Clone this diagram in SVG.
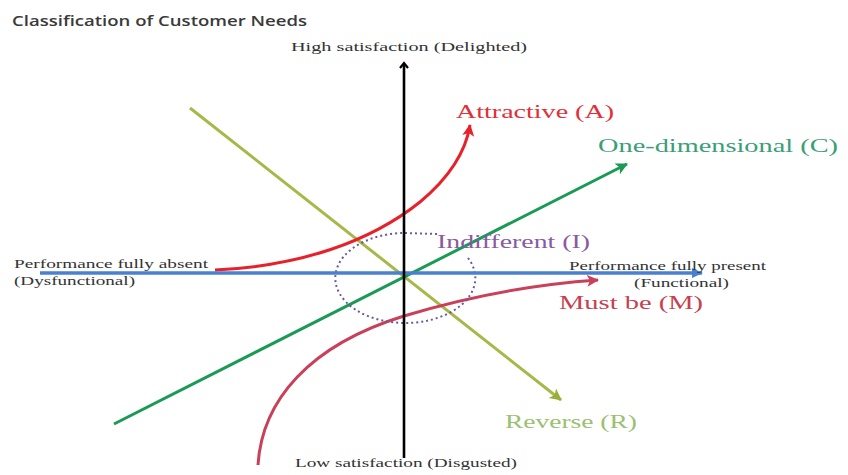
<svg xmlns="http://www.w3.org/2000/svg" width="848" height="475" viewBox="0 0 848 475">
  <style>
    .axis-label { font-family: "Liberation Serif", serif; font-size: 12px; fill: #333; }
    .curve-label { font-family: "Liberation Serif", serif; font-size: 18px; }
    .title { font-family: "Open Sans", "Liberation Sans", sans-serif; font-size: 14px; font-weight: 600; fill: #3a3a3a; }
  </style>
  <defs>
    <marker id="arrow-black" markerWidth="10" markerHeight="10" refX="5" refY="5" orient="auto" markerUnits="userSpaceOnUse">
      <path d="M1,1 L6,5 L1,9" fill="none" stroke="#000" stroke-width="2.2"/>
    </marker>
    <marker id="arrow-blue" markerWidth="12" markerHeight="12" refX="10" refY="6" orient="auto" markerUnits="userSpaceOnUse">
      <path d="M0,1 L11,6 L0,11 Z" fill="#4a80d0"/>
    </marker>
    <marker id="arrow-red" markerWidth="14" markerHeight="14" refX="11" refY="7" orient="auto" markerUnits="userSpaceOnUse">
      <path d="M0,1 L12,7 L0,13 L3,7 Z" fill="#e8202a"/>
    </marker>
    <marker id="arrow-crimson" markerWidth="14" markerHeight="14" refX="11" refY="7" orient="auto" markerUnits="userSpaceOnUse">
      <path d="M0,1 L12,7 L0,13 L3,7 Z" fill="#c8405a"/>
    </marker>
    <marker id="arrow-green" markerWidth="14" markerHeight="14" refX="11" refY="7" orient="auto" markerUnits="userSpaceOnUse">
      <path d="M0,1 L12,7 L0,13 L3,7 Z" fill="#1a9a55"/>
    </marker>
    <marker id="arrow-olive" markerWidth="14" markerHeight="14" refX="11" refY="7" orient="auto" markerUnits="userSpaceOnUse">
      <path d="M0,1 L12,7 L0,13 L3,7 Z" fill="#9aad3a"/>
    </marker>
  </defs>

  <rect width="848" height="475" fill="#fff"/>

  <text class="title" x="12" y="26" textLength="295" lengthAdjust="spacingAndGlyphs">Classification of Customer Needs</text>

  <g id="connectors">
    <!-- Reverse (R) -->
    <line x1="190" y1="108" x2="561" y2="400" stroke="#a8b848" stroke-width="3" marker-end="url(#arrow-olive)"/>
    <!-- One-dimensional (C) -->
    <line x1="114" y1="424" x2="627" y2="164" stroke="#1a9a55" stroke-width="3" marker-end="url(#arrow-green)"/>
    <!-- Attractive (A) -->
    <path d="M215,270 C300,266 370,242 420,202 C450,177 466,150 470,125" fill="none" stroke="#e8202a" stroke-width="3" marker-end="url(#arrow-red)"/>
    <!-- Must be (M) -->
    <path d="M258,465 C262,400 310,345 404,316 C470,296 540,284 598,280" fill="none" stroke="#c8405a" stroke-width="3" marker-end="url(#arrow-crimson)"/>
    <!-- Indifferent (I) -->
    <path d="M437,234 L405,233 A70,45 0 1 0 468,258" fill="none" stroke="#6a5a9a" stroke-width="2" stroke-dasharray="2,3"/>
    <!-- performance axis -->
    <line x1="40" y1="273" x2="702" y2="273" stroke="#4a80d0" stroke-width="3.5" marker-end="url(#arrow-blue)"/>
    <!-- satisfaction axis -->
    <line x1="404" y1="458" x2="404" y2="64" stroke="#000" stroke-width="2.6" marker-end="url(#arrow-black)"/>
  </g>

  <g id="axis-high">
    <text class="axis-label" x="291" y="51" textLength="236" lengthAdjust="spacingAndGlyphs">High satisfaction (Delighted)</text>
  </g>
  <g id="axis-low">
    <text class="axis-label" x="295" y="467" textLength="222" lengthAdjust="spacingAndGlyphs">Low satisfaction (Disgusted)</text>
  </g>
  <g id="axis-absent">
    <text class="axis-label" x="14" y="268" textLength="194" lengthAdjust="spacingAndGlyphs">Performance fully absent</text>
    <text class="axis-label" x="14" y="285" textLength="121" lengthAdjust="spacingAndGlyphs">(Dysfunctional)</text>
  </g>
  <g id="axis-present">
    <text class="axis-label" x="569" y="270" textLength="197" lengthAdjust="spacingAndGlyphs">Performance fully present</text>
    <text class="axis-label" x="634" y="287" textLength="95" lengthAdjust="spacingAndGlyphs">(Functional)</text>
  </g>

  <g id="attractive">
    <text class="curve-label" x="456" y="118" fill="#e0303a" textLength="158" lengthAdjust="spacingAndGlyphs">Attractive (A)</text>
  </g>
  <g id="one-dimensional">
    <text class="curve-label" x="598" y="152" fill="#3a9e78" textLength="240" lengthAdjust="spacingAndGlyphs">One-dimensional (C)</text>
  </g>
  <g id="indifferent">
    <text class="curve-label" x="437" y="248" fill="#8a5aa0" textLength="153" lengthAdjust="spacingAndGlyphs">Indifferent (I)</text>
  </g>
  <g id="must-be">
    <text class="curve-label" x="559" y="309" fill="#c84050" textLength="144" lengthAdjust="spacingAndGlyphs">Must be (M)</text>
  </g>
  <g id="reverse">
    <text class="curve-label" x="505" y="428" fill="#9ac070" textLength="132" lengthAdjust="spacingAndGlyphs">Reverse (R)</text>
  </g>
</svg>
